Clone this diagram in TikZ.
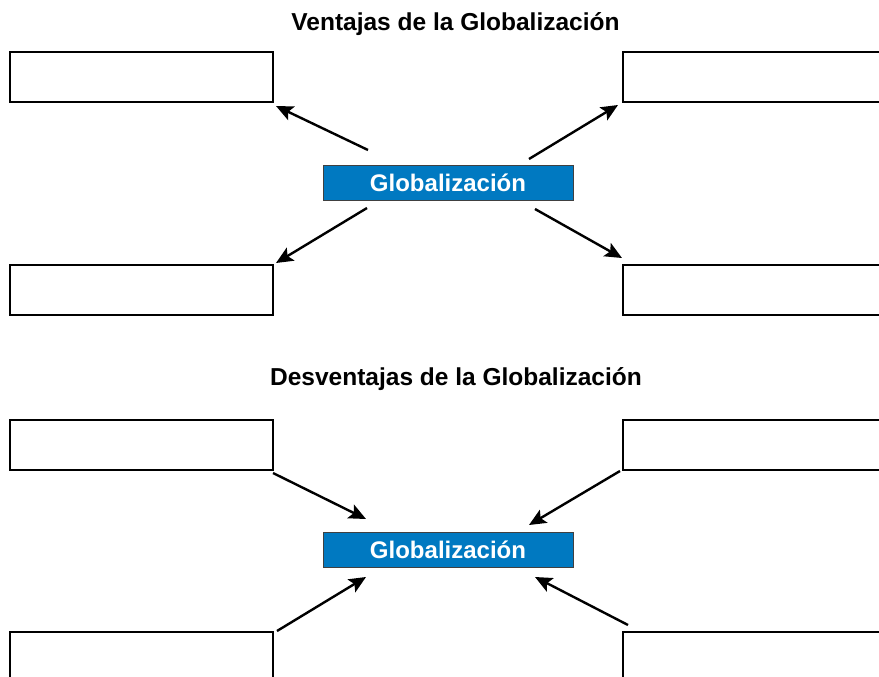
\documentclass[tikz,border=0pt]{standalone}
\usepackage{fontspec}
\setmainfont{Liberation Sans}
\usetikzlibrary{arrows.meta}
\definecolor{globblue}{RGB}{0,121,193}
\tikzset{
  emptybox/.style={draw=black, line width=1.2pt, fill=white},
  centerbox/.style={draw=black!75, line width=1pt, fill=globblue, minimum width=250pt, minimum height=35pt, inner sep=0pt, text=white, font=\bfseries\fontsize{24}{28}\selectfont},
  titletext/.style={font=\bfseries\fontsize{24.5}{28}\selectfont, anchor=base},
  arr/.style={line width=2.4pt, -{Stealth[length=17pt,width=15pt,inset=3.5pt]}}
}
\begin{document}
\begin{tikzpicture}[x=1pt,y=-1pt]
\useasboundingbox (0,0) rectangle (879,677);
\clip (0,0) rectangle (879,677);
% titles
\node[titletext] (t1) at (455.5,30.5) {Ventajas de la Globalización};
\node[titletext] (t2) at (456,385) {Desventajas de la Globalización};
% top section boxes
\draw[emptybox] (10,52) rectangle (273,102);
\draw[emptybox] (623,52) rectangle (890,102);
\draw[emptybox] (10,265) rectangle (273,315);
\draw[emptybox] (623,265) rectangle (890,315);
\node[centerbox] (g1) at (448,182.5) {Globalización};
% bottom section boxes
\draw[emptybox] (10,420) rectangle (273,470);
\draw[emptybox] (623,420) rectangle (890,470);
\draw[emptybox] (10,632) rectangle (273,690);
\draw[emptybox] (623,632) rectangle (890,690);
\node[centerbox] (g2) at (448,549.5) {Globalización};
% arrow endpoints
\coordinate (a1s) at (368,150); \coordinate (a1e) at (276,106);
\coordinate (a2s) at (529,159); \coordinate (a2e) at (618,105);
\coordinate (a3s) at (367,208); \coordinate (a3e) at (276,263);
\coordinate (a4s) at (535,209); \coordinate (a4e) at (622,258);
\coordinate (b1s) at (273,473); \coordinate (b1e) at (366,519);
\coordinate (b2s) at (620,471); \coordinate (b2e) at (529,525);
\coordinate (b3s) at (277,631); \coordinate (b3e) at (366,577);
\coordinate (b4s) at (628,625); \coordinate (b4e) at (535,577);
\draw[arr] (a1s) -- (a1e);
\draw[arr] (a2s) -- (a2e);
\draw[arr] (a3s) -- (a3e);
\draw[arr] (a4s) -- (a4e);
\draw[arr] (b1s) -- (b1e);
\draw[arr] (b2s) -- (b2e);
\draw[arr] (b3s) -- (b3e);
\draw[arr] (b4s) -- (b4e);
\end{tikzpicture}
\end{document}
